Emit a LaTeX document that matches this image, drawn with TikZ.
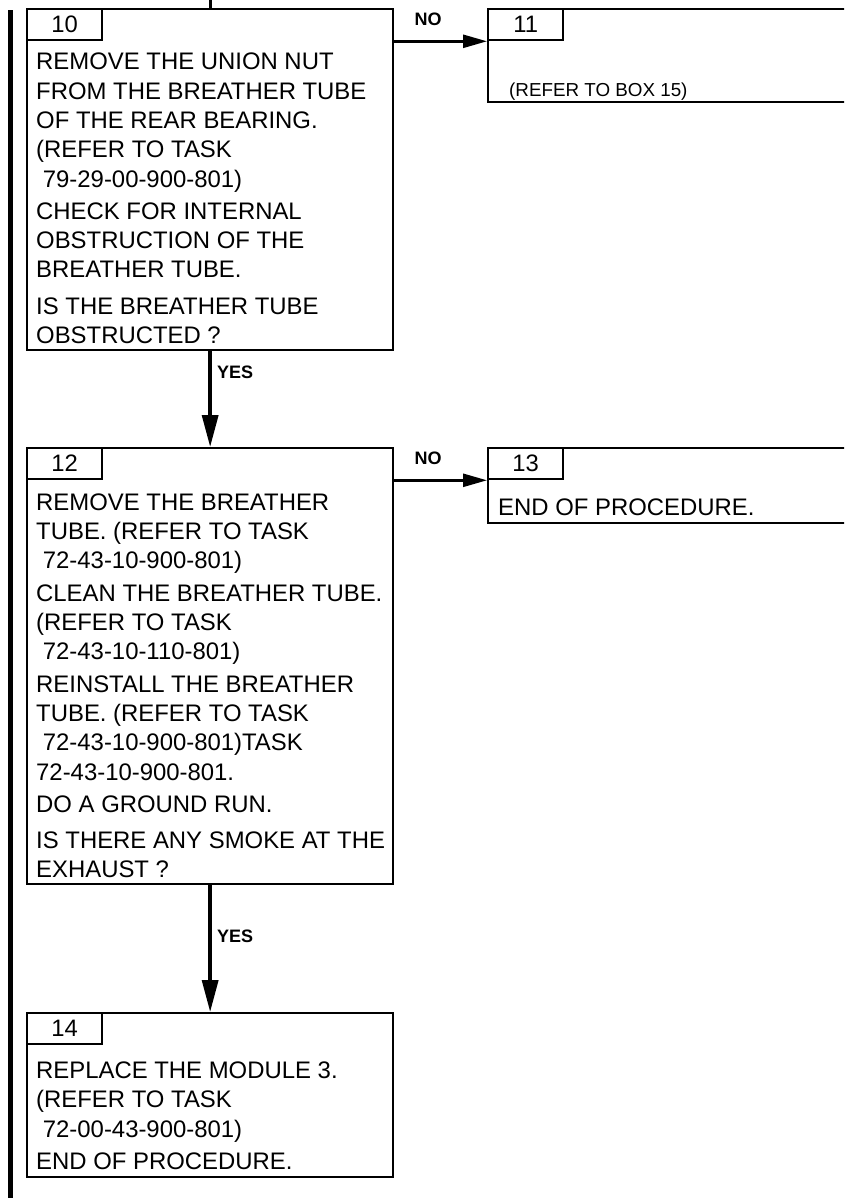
\documentclass[tikz,border=0pt]{standalone}
\usepackage{fontspec}
\setmainfont{Liberation Sans}
\usetikzlibrary{arrows.meta}

\begin{document}
\begin{tikzpicture}[x=1pt,y=-1pt,
  stepbox/.style={rectangle,draw,line width=2.3pt,inner sep=0pt,anchor=north west},
  numtab/.style={rectangle,draw,line width=2.3pt,inner sep=0pt,minimum width=75pt,minimum height=31pt,anchor=north west,font=\fontsize{23.8}{28}\selectfont},
  steptext/.style={inner sep=0pt,anchor=north west,align=left,font=\fontsize{23.9}{29.3}\selectfont},
  answer/.style={inner sep=0pt,font=\fontsize{18}{21}\selectfont\bfseries},
  flow/.style={line width=3.5pt,-{Triangle[length=32pt,width=16pt]}},
  side/.style={line width=2.5pt,-{Triangle[length=24pt,width=13pt]}}]
\clip (0,0) rectangle (844,1198);
\fill (8,10) rectangle (13,1198);
% boxes
\node[stepbox,minimum width=366pt,minimum height=341pt] (box10) at (26,8) {};
\node[stepbox,minimum width=380pt,minimum height=93pt] (box11) at (487,8) {};
\node[stepbox,minimum width=366pt,minimum height=436pt] (box12) at (26,447) {};
\node[stepbox,minimum width=380pt,minimum height=75pt] (box13) at (487,447) {};
\node[stepbox,minimum width=366pt,minimum height=164pt] (box14) at (26,1012) {};
\foreach \n in {10,...,14} {
	\node[numtab] (tab\n) at (box\n.north west) {\n};
}
% texts
\node[steptext] (txt10) at (36,53) {REMOVE THE UNION NUT\\FROM THE BREATHER TUBE\\OF THE REAR BEARING.\\(REFER TO TASK\\\hspace*{0.28em}79-29-00-900-801)\\[3pt]CHECK FOR INTERNAL\\OBSTRUCTION OF THE\\BREATHER TUBE.\\[7pt]IS THE BREATHER TUBE\\OBSTRUCTED ?};
\node[inner sep=0pt,anchor=base west,font=\fontsize{18.8}{22}\selectfont] (txt11) at (509,97) {(REFER TO BOX 15)};
\node[steptext] (txt12) at (36,493.5) {REMOVE THE BREATHER\\TUBE. (REFER TO TASK\\\hspace*{0.28em}72-43-10-900-801)\\[3pt]CLEAN THE BREATHER TUBE.\\(REFER TO TASK\\\hspace*{0.28em}72-43-10-110-801)\\[3pt]REINSTALL THE BREATHER\\TUBE. (REFER TO TASK\\\hspace*{0.28em}72-43-10-900-801)TASK\\72-43-10-900-801.\\[3pt]DO A GROUND RUN.\\[7pt]IS THERE ANY SMOKE AT THE\\EXHAUST ?};
\node[inner sep=0pt,anchor=base west,font=\fontsize{23.9}{28}\selectfont] (txt13) at (498,515.5) {END OF PROCEDURE.};
\node[steptext] (txt14) at (36,1061.5) {REPLACE THE MODULE 3.\\(REFER TO TASK\\\hspace*{0.28em}72-00-43-900-801)\\[3pt]END OF PROCEDURE.};
% answers
\node[answer] (no10) at (428,19) {NO};
\node[answer] (no12) at (428,458) {NO};
\node[answer,anchor=west] (yes10) at (217,372) {YES};
\node[answer,anchor=west] (yes12) at (217,936) {YES};
% connectors
\coordinate (entry) at (box10.north |- 0,0);
\draw[line width=3pt] (entry) -- (box10.north);
\draw[side] (box10.east |- tab10.south) -- (box11.west |- tab11.south);
\draw[flow] (box10.south) -- (box12.north);
\draw[side] (box12.east |- tab12.south) -- (box13.west |- tab13.south);
\draw[flow] (box12.south) -- (box14.north);
\end{tikzpicture}
\end{document}
